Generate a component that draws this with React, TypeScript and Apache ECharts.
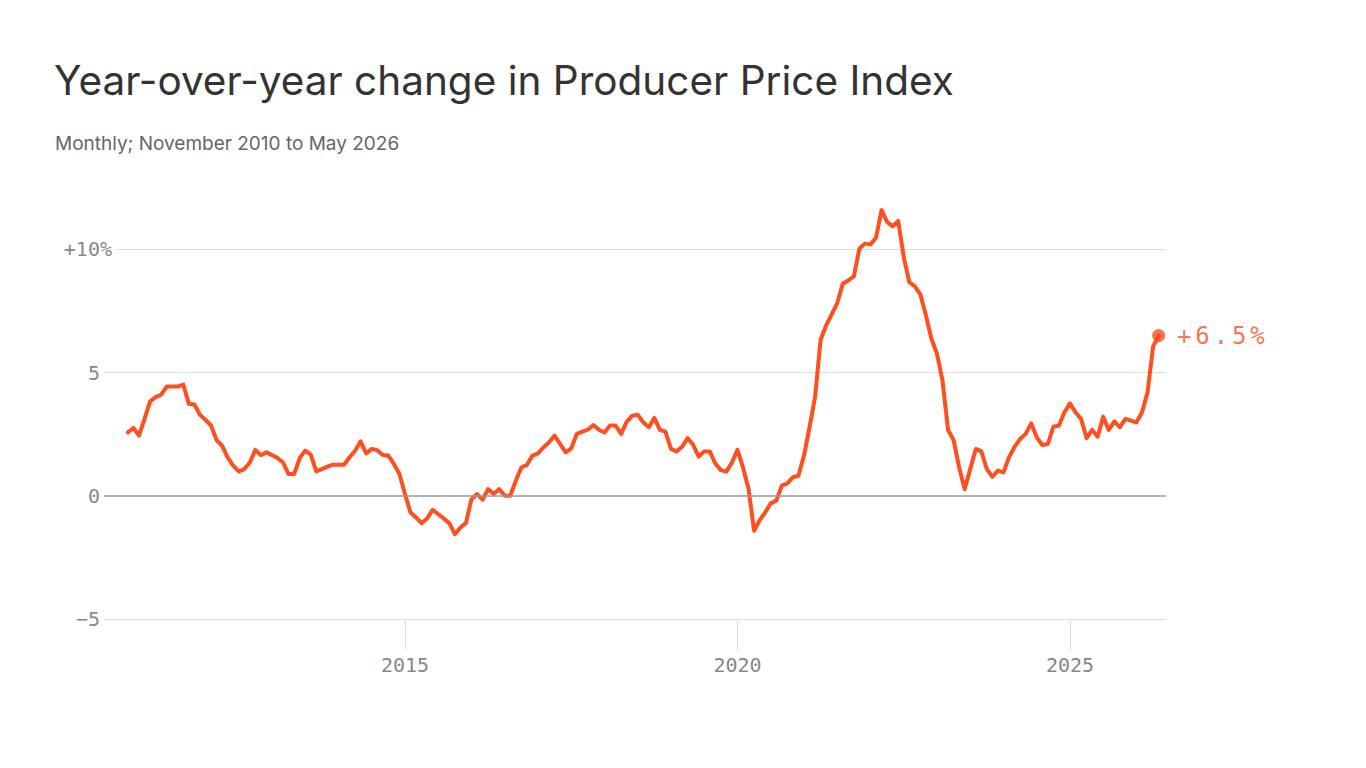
import React, { useEffect, useRef } from "react";
import * as echarts from "echarts";

const TITLE = "Year-over-year change in Producer Price Index";
const SUBTITLE = "Monthly; November 2010 to May 2026";

// First observation: November 2010 (month index 10, zero-based)
const START_YEAR = 2010;
const START_MONTH = 10;

// Year-over-year % change, monthly, Nov 2010 .. May 2026
const ppi2010to2014 = [
  2.57, 2.75,
  2.44, 3.12, 3.83, 4.0, 4.1, 4.43, 4.43, 4.43, 4.51, 3.73, 3.7, 3.29,
  3.08, 2.85, 2.26, 2.03, 1.56, 1.22, 0.99, 1.08, 1.35, 1.86, 1.65, 1.76,
  1.65, 1.53, 1.35, 0.88, 0.88, 1.53, 1.83, 1.67, 0.99, 1.08, 1.18, 1.26,
  1.26, 1.26, 1.56, 1.83, 2.21, 1.72, 1.9, 1.85, 1.65, 1.63, 1.29, 0.88,
];
const ppi2015to2019 = [
  0.07, -0.68, -0.88, -1.11, -0.92, -0.57, -0.75, -0.92, -1.11, -1.56, -1.29, -1.11,
  -0.14, 0.07, -0.16, 0.27, 0.07, 0.27, 0.0, 0.0, 0.61, 1.15, 1.25, 1.63,
  1.72, 1.96, 2.17, 2.44, 2.1, 1.76, 1.92, 2.51, 2.6, 2.68, 2.87, 2.68,
  2.57, 2.85, 2.85, 2.51, 3.0, 3.25, 3.29, 2.98, 2.78, 3.16, 2.67, 2.6,
  1.9, 1.8, 1.99, 2.34, 2.07, 1.59, 1.8, 1.8, 1.31, 1.04, 0.98, 1.35,
];
const ppi2020to2024 = [
  1.86, 1.15, 0.27, -1.42, -0.99, -0.68, -0.31, -0.2, 0.41, 0.5, 0.75, 0.81,
  1.63, 2.78, 4.0, 6.33, 6.91, 7.36, 7.82, 8.6, 8.74, 8.9, 10.03, 10.23,
  10.2, 10.47, 11.59, 11.11, 10.93, 11.15, 9.69, 8.67, 8.5, 8.17, 7.32, 6.37,
  5.76, 4.67, 2.67, 2.26, 1.15, 0.27, 1.08, 1.9, 1.8, 1.08, 0.77, 1.02,
  0.95, 1.56, 1.99, 2.3, 2.51, 2.94, 2.37, 2.06, 2.1, 2.8, 2.85, 3.39,
];
const ppi2025to2026 = [
  3.75, 3.39, 3.12, 2.34, 2.67, 2.4, 3.21, 2.67, 3.02, 2.78, 3.12, 3.05,
  2.98, 3.39, 4.2, 6.06, 6.5,
];

const X_TICKS = [2015, 2020, 2025];
const Y_TICKS = [-5, 0, 5, 10];

const values = [...ppi2010to2014, ...ppi2015to2019, ...ppi2020to2024, ...ppi2025to2026];
const points = values.map((v, i) => [START_YEAR + (START_MONTH + i) / 12, v]);
const lastPoint = points[points.length - 1];

const ORANGE = "#ff4e1f";
const MONO = "'DejaVu Sans Mono', monospace";
const SANS = "Inter, 'Noto Sans', sans-serif";

export default function App() {
  const ref = useRef<HTMLDivElement>(null);

  useEffect(() => {
    if (!ref.current) return;
    const chart = echarts.init(ref.current, null, { renderer: "svg" });
    const fmtY = (v: number) => {
      if (v === 10) return "{bg|+10%}";
      if (!Y_TICKS.includes(v)) return "";
      const s = v < 0 ? "\u2212" + Math.abs(v) : String(v);
      return `{n|${s}}{h|%}`;
    };
    chart.setOption({
      animation: false,
      backgroundColor: "#ffffff",
      graphic: [
        {
          type: "text",
          x: 54,
          y: 80,
          style: {
            text: TITLE,
            fill: "#333333",
            font: `400 40.5px ${SANS}`,
            verticalAlign: "middle",
          },
        },
        {
          type: "text",
          x: 55,
          y: 143,
          style: {
            text: SUBTITLE,
            fill: "#666666",
            font: `400 19px ${SANS}`,
            verticalAlign: "middle",
          },
        },
      ],
      grid: { left: 104, right: 200, top: 200, bottom: 149 },
      xAxis: {
        type: "value",
        min: 2010.474,
        max: 2026.444,
        axisLine: { show: false, onZero: false },
        splitLine: { show: false },
        axisTick: {
          show: true,
          customValues: X_TICKS,
          length: 31,
          lineStyle: { color: "#dddddd", width: 1 },
        },
        axisLabel: {
          customValues: X_TICKS,
          formatter: (v: number) => String(v),
          color: "#888888",
          fontFamily: MONO,
          fontSize: 20,
          margin: 36,
        },
      },
      yAxis: {
        type: "value",
        min: -5,
        max: 12,
        interval: 5,
        axisLine: { show: false },
        axisTick: { show: false },
        splitLine: {
          lineStyle: {
            color: ["#dddddd", "rgba(0,0,0,0)", "#dddddd", "#dddddd", "rgba(0,0,0,0)"],
            width: 1,
          },
        },
        axisLabel: {
          formatter: fmtY,
          margin: -12,
          fontFamily: MONO,
          fontSize: 20,
          color: "#888888",
          rich: {
            n: { fontFamily: MONO, fontSize: 20, color: "#888888" },
            h: { fontFamily: MONO, fontSize: 20, color: "rgba(0,0,0,0)", padding: [0, 4, 0, 0] },
            bg: {
              fontFamily: MONO,
              fontSize: 20,
              color: "#888888",
              backgroundColor: "#ffffff",
              padding: [0, 4, 0, 0],
            },
          },
        },
      },
      series: [
        {
          type: "scatter",
          z: 1,
          silent: true,
          data: [lastPoint],
          symbolSize: 13,
          itemStyle: { color: ORANGE },
          label: {
            show: true,
            position: "right",
            distance: 10,
            formatter: (p: any) => {
              const t = `+${(p.value[1] as number).toFixed(1)}%`;
              return t
                .split("")
                .map((c) => `{c|${c}}`)
                .join("");
            },
            rich: {
              c: {
                width: 18.3,
                align: "center",
                fontFamily: MONO,
                fontSize: 24,
                color: ORANGE,
              },
            },
          },
          markLine: {
            silent: true,
            symbol: "none",
            label: { show: false },
            lineStyle: { color: "#9a9a9a", width: 1.5, type: "solid" },
            data: [{ yAxis: 0 }],
          },
        },
        {
          type: "line",
          z: 2,
          silent: true,
          data: points,
          showSymbol: false,
          lineStyle: { color: ORANGE, width: 4, join: "round", cap: "round" },
        },
      ],
    });
    return () => chart.dispose();
  }, []);

  return (
    <div
      ref={ref}
      style={{ position: "fixed", left: 0, top: 0, width: 1366, height: 768, background: "#fff" }}
    />
  );
}
